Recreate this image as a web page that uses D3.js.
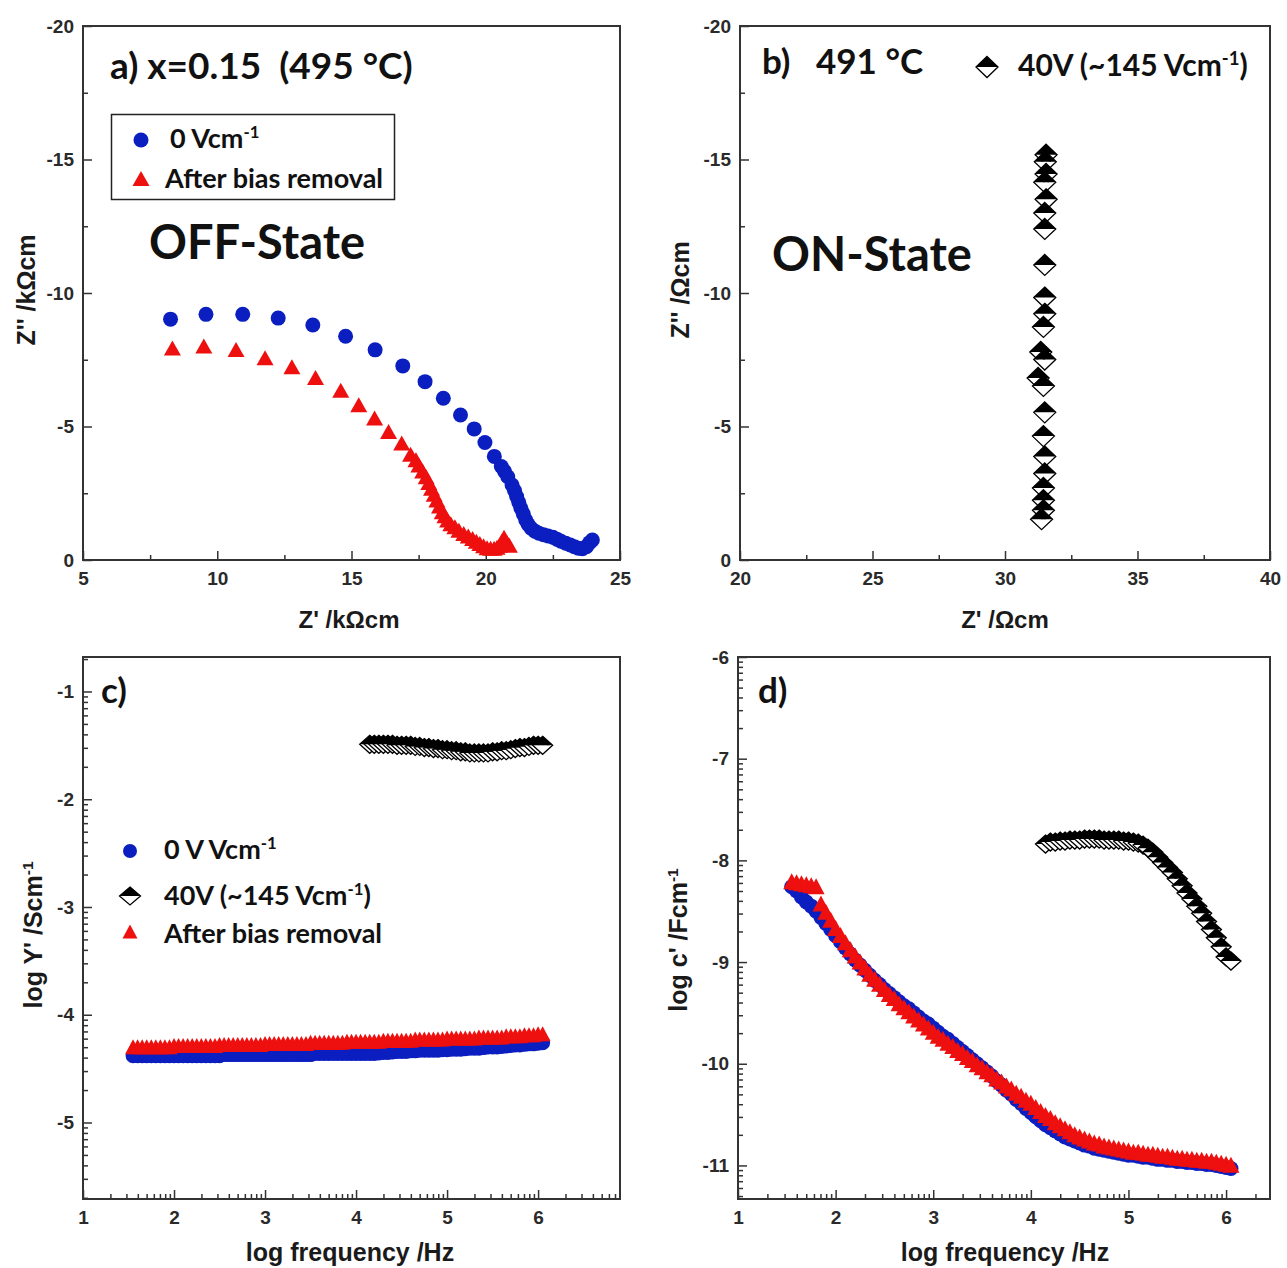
<!DOCTYPE html>
<html>
<head>
<meta charset="utf-8">
<script src="https://cdn.jsdelivr.net/npm/d3@7"></script>
<style>
body { margin: 0; background: #fff; }
svg text { font-family: "Liberation Sans", Arial, sans-serif; }
.note { font-family: Lato, "Open Sans", sans-serif; font-weight: bold; fill: #111; }
.ax text { font-size: 19px; font-weight: bold; fill: #2a2a2a; }
.ax line { stroke: #333; stroke-width: 1.5; }
.ttl { font-weight: bold; fill: #1a1a1a; }
</style>
</head>
<body>
<svg id="fig" width="1287" height="1268"></svg>
<script>
// ---- a) Nyquist, x=0.15, OFF state (kOhm cm)
var a_blue_x = [8.26, 9.58, 10.95, 12.27, 13.56, 14.78, 15.88, 16.91, 17.74, 18.42, 19.06, 19.57, 19.97, 20.32, 20.58, 20.7, 20.82, 20.98, 21.07, 21.15, 21.23, 21.31, 21.4, 21.49, 21.58, 21.69, 21.83, 21.98, 22.15, 22.32, 22.5, 22.65, 22.8, 22.98, 23.15, 23.3, 23.45, 23.6, 23.75, 23.87, 23.97];
var a_blue_y = [-9.02, -9.2, -9.2, -9.06, -8.8, -8.38, -7.87, -7.27, -6.68, -6.06, -5.43, -4.91, -4.4, -3.88, -3.5, -3.32, -3.12, -2.81, -2.6, -2.38, -2.16, -1.94, -1.72, -1.5, -1.33, -1.19, -1.08, -1.0, -0.95, -0.9, -0.85, -0.78, -0.7, -0.63, -0.56, -0.5, -0.44, -0.42, -0.5, -0.65, -0.75];
var a_red_x = [8.33, 9.5, 10.7, 11.78, 12.78, 13.66, 14.6, 15.27, 15.86, 16.38, 16.87, 17.2, 17.4, 17.51, 17.65, 17.78, 17.88, 17.98, 18.08, 18.18, 18.28, 18.38, 18.48, 18.58, 18.7, 18.85, 19.0, 19.18, 19.35, 19.51, 19.65, 19.78, 19.92, 20.05, 20.18, 20.31, 20.42, 20.51, 20.6, 20.68, 20.78, 20.88];
var a_red_y = [-7.88, -7.96, -7.83, -7.52, -7.18, -6.78, -6.3, -5.76, -5.26, -4.76, -4.33, -3.9, -3.7, -3.5, -3.28, -3.06, -2.85, -2.63, -2.41, -2.19, -1.97, -1.75, -1.6, -1.44, -1.3, -1.19, -1.06, -0.94, -0.84, -0.75, -0.65, -0.56, -0.48, -0.4, -0.38, -0.38, -0.42, -0.5, -0.65, -0.8, -0.62, -0.5];

// ---- b) Nyquist under 40V, ON state (Ohm cm)
var b_on_x = [31.55, 31.52, 31.55, 31.5, 31.55, 31.5, 31.5, 31.5, 31.5, 31.5, 31.45, 31.35, 31.5, 31.25, 31.45, 31.5, 31.45, 31.5, 31.5, 31.45, 31.45, 31.45, 31.38];
var b_on_y = [-15.18, -14.92, -14.46, -14.15, -13.51, -13.0, -12.4, -11.05, -9.83, -9.22, -8.73, -7.79, -7.51, -6.82, -6.52, -5.53, -4.64, -3.88, -3.24, -2.7, -2.24, -1.86, -1.53];

// ---- c), d) spectroscopic plots vs log frequency
var logf = [1.55, 1.6, 1.65, 1.7, 1.75, 1.8, 1.85, 1.9, 1.95,
	    2.0, 2.05, 2.1, 2.15, 2.2, 2.25, 2.3, 2.35, 2.4, 2.45, 2.5, 2.55, 2.6, 2.65, 2.7, 2.75, 2.8, 2.85, 2.9, 2.95,
	    3.0, 3.05, 3.1, 3.15, 3.2, 3.25, 3.3, 3.35, 3.4, 3.45, 3.5, 3.55, 3.6, 3.65, 3.7, 3.75, 3.8, 3.85, 3.9, 3.95,
	    4.0, 4.05, 4.1, 4.15, 4.2, 4.25, 4.3, 4.35, 4.4, 4.45, 4.5, 4.55, 4.6, 4.65, 4.7, 4.75, 4.8, 4.85, 4.9, 4.95,
	    5.0, 5.05, 5.1, 5.15, 5.2, 5.25, 5.3, 5.35, 5.4, 5.45, 5.5, 5.55, 5.6, 5.65, 5.7, 5.75, 5.8, 5.85, 5.9, 5.95,
	    6.0, 6.05];
var logf_on = [4.15, 4.2, 4.25, 4.3, 4.35, 4.4, 4.45, 4.5, 4.55, 4.6, 4.65, 4.7, 4.75, 4.8, 4.85, 4.9, 4.95,
	       5.0, 5.05, 5.1, 5.15, 5.2, 5.25, 5.3, 5.35, 5.4, 5.45, 5.5, 5.55, 5.6, 5.65, 5.7, 5.75, 5.8, 5.85, 5.9, 5.95,
	       6.0, 6.05];

var c_blue = [-4.38, -4.38, -4.38, -4.38, -4.38, -4.38, -4.38, -4.38, -4.38, -4.38,
	      -4.38, -4.38, -4.38, -4.38, -4.38, -4.38, -4.38, -4.38, -4.38, -4.38,
	      -4.37, -4.37, -4.37, -4.37, -4.37, -4.37, -4.37, -4.37, -4.37, -4.37,
	      -4.37, -4.37, -4.37, -4.37, -4.37, -4.37, -4.37, -4.37, -4.37, -4.37,
	      -4.36, -4.36, -4.36, -4.36, -4.36, -4.36, -4.36, -4.36, -4.36, -4.36, -4.36, -4.36, -4.36, -4.36,
	      -4.355, -4.35, -4.35, -4.345, -4.34, -4.34, -4.34, -4.335, -4.335, -4.33, -4.33, -4.33,
	      -4.33, -4.33, -4.325, -4.325, -4.32, -4.32, -4.32, -4.315, -4.31, -4.31, -4.31, -4.305,
	      -4.30, -4.30, -4.30, -4.295, -4.29, -4.285, -4.28, -4.28, -4.275, -4.27, -4.27, -4.265, -4.26];
var c_red = [-4.31, -4.31, -4.31, -4.31, -4.31, -4.31, -4.31, -4.31, -4.31,
	     -4.30, -4.30, -4.30, -4.30, -4.30, -4.30, -4.30, -4.30, -4.30, -4.30,
	     -4.29, -4.29, -4.29, -4.29, -4.29, -4.29, -4.29, -4.29, -4.29, -4.29,
	     -4.28, -4.28, -4.28, -4.28, -4.28, -4.28, -4.28, -4.28, -4.28, -4.28,
	     -4.27, -4.27, -4.27, -4.27, -4.27, -4.27, -4.27, -4.27,
	     -4.26, -4.26, -4.26, -4.26, -4.26, -4.26, -4.26, -4.26,
	     -4.25, -4.25, -4.25, -4.25, -4.25, -4.25, -4.25,
	     -4.24, -4.24, -4.24, -4.24, -4.24, -4.24, -4.24,
	     -4.23, -4.23, -4.23, -4.23, -4.23, -4.23, -4.23,
	     -4.22, -4.22, -4.22, -4.22, -4.22, -4.22,
	     -4.21, -4.21, -4.21, -4.21,
	     -4.20, -4.20, -4.20,
	     -4.19, -4.19];
var c_on = [-1.49, -1.49, -1.49, -1.49, -1.49, -1.49, -1.50, -1.50, -1.50, -1.50, -1.51, -1.51, -1.52, -1.52,
	    -1.53, -1.53, -1.54, -1.54, -1.55, -1.55, -1.56, -1.56, -1.57, -1.57, -1.57, -1.57, -1.57,
	    -1.56, -1.56, -1.55, -1.55, -1.54, -1.53, -1.52, -1.52, -1.51, -1.50, -1.50, -1.50];

var d_blue = [-8.26, -8.30, -8.36, -8.41, -8.45, -8.50, -8.56, -8.62, -8.68,
	      -8.74, -8.80, -8.86, -8.92, -8.98, -9.03, -9.08, -9.13, -9.18, -9.22, -9.27, -9.31, -9.35, -9.39, -9.43, -9.46, -9.50, -9.54, -9.58, -9.61,
	      -9.65, -9.69, -9.73, -9.76, -9.80, -9.84, -9.88, -9.92, -9.96, -10.00, -10.04, -10.08, -10.12, -10.17, -10.21, -10.26, -10.30, -10.35, -10.39, -10.44,
	      -10.48, -10.52, -10.56, -10.60, -10.63, -10.66, -10.69, -10.72, -10.74, -10.76, -10.78, -10.80, -10.81, -10.83, -10.84, -10.85, -10.86, -10.87, -10.88, -10.89,
	      -10.90, -10.90, -10.91, -10.92, -10.92, -10.93, -10.94, -10.94, -10.95, -10.95, -10.96, -10.96, -10.97, -10.97, -10.98, -10.98, -10.99, -10.99, -11.00, -11.01,
	      -11.02, -11.03];
var d_red = [-8.22, -8.23, -8.24, -8.25, -8.26, -8.27, -8.44, -8.52, -8.60,
	     -8.68, -8.75, -8.82, -8.89, -8.95, -9.01, -9.07, -9.13, -9.18, -9.23, -9.28, -9.33, -9.37, -9.42, -9.46, -9.50, -9.54, -9.58, -9.62, -9.66,
	     -9.70, -9.74, -9.77, -9.81, -9.84, -9.88, -9.91, -9.95, -9.98, -10.02, -10.05, -10.09, -10.12, -10.16, -10.19, -10.23, -10.26, -10.30, -10.33, -10.37,
	     -10.40, -10.44, -10.48, -10.52, -10.55, -10.59, -10.62, -10.65, -10.68, -10.71, -10.73, -10.75, -10.77, -10.79, -10.80, -10.82, -10.83, -10.84, -10.85, -10.86,
	     -10.87, -10.88, -10.88, -10.89, -10.90, -10.90, -10.91, -10.92, -10.92, -10.93, -10.94, -10.94, -10.95, -10.95, -10.96, -10.96, -10.97, -10.97, -10.98, -10.99,
	     -11.00, -11.01];
var d_on = [-7.84, -7.82, -7.82, -7.81, -7.81, -7.80, -7.80, -7.80, -7.79, -7.79, -7.79, -7.79, -7.80, -7.80, -7.80, -7.80, -7.81, -7.81, -7.82, -7.83,
	    -7.85, -7.88, -7.92, -7.97, -8.02, -8.07, -8.12, -8.18, -8.25, -8.32, -8.38, -8.45, -8.52, -8.60, -8.68, -8.76, -8.85, -8.95, -8.99];

// tick labels
var ab_y_ticks = [0, -5, -10, -15, -20];
var a_x_ticks = [5, 10, 15, 20, 25];
var b_x_ticks = [20, 25, 30, 35, 40];
var c_y_ticks = [-1, -2, -3, -4, -5];
var d_y_ticks = [-6, -7, -8, -9, -10, -11];
var f_ticks = [1, 2, 3, 4, 5, 6];

var BLUE = "#0b1ec0", RED = "#ee0f0f";
var NB = "\u00a0";

var svg = d3.select("#fig");

// log-style minor ticks between integer decades
function logMinor(lo, hi) {
    var out = [];
    for (var n = Math.floor(lo) - 1; n <= Math.ceil(hi); n++) {
	for (var k = 2; k <= 9; k++) {
	    var v = n + Math.log10(k);
	    if (v > lo && v < hi) out.push(v);
	}
    }
    return out;
}

function panel(box, xDom, yDom, xt, yt, xMinor, yMinor) {
    var x = d3.scaleLinear().domain(xDom).range([box.x0, box.x1]);
    var y = d3.scaleLinear().domain(yDom).range([box.y1, box.y0]);
    var g = svg.append("g");

    var fmt = function(d){ return String(d); };
    g.append("g").attr("class", "ax")
	.attr("transform", "translate(0," + box.y1 + ")")
	.call(d3.axisBottom(x).tickValues(xt).tickSizeInner(-9).tickSizeOuter(0)
	      .tickPadding(12).tickFormat(fmt))
	.call(function(s){ s.select(".domain").remove(); });
    g.append("g").attr("class", "ax")
	.attr("transform", "translate(0," + box.y1 + ")")
	.call(d3.axisBottom(x).tickValues(xMinor).tickSizeInner(-5).tickSizeOuter(0)
	      .tickFormat(""))
	.call(function(s){ s.select(".domain").remove(); });
    g.append("g").attr("class", "ax")
	.attr("transform", "translate(" + box.x0 + ",0)")
	.call(d3.axisLeft(y).tickValues(yt).tickSizeInner(-9).tickSizeOuter(0)
	      .tickPadding(9).tickFormat(fmt))
	.call(function(s){ s.select(".domain").remove(); });
    g.append("g").attr("class", "ax")
	.attr("transform", "translate(" + box.x0 + ",0)")
	.call(d3.axisLeft(y).tickValues(yMinor).tickSizeInner(-5).tickSizeOuter(0)
	      .tickFormat(""))
	.call(function(s){ s.select(".domain").remove(); });

    g.append("rect")
	.attr("x", box.x0).attr("y", box.y0)
	.attr("width", box.x1 - box.x0).attr("height", box.y1 - box.y0)
	.attr("fill", "none").attr("stroke", "#333").attr("stroke-width", 2);

    return {x: x, y: y, g: g};
}

function circles(p, xs, ys, r) {
    p.g.append("g").selectAll("circle").data(xs).join("circle")
	.attr("cx", function(d){ return p.x(d); })
	.attr("cy", function(d, i){ return p.y(ys[i]); })
	.attr("r", r).attr("fill", BLUE);
}

function triPath(w, h) {
    return "M0," + (-h * 0.6) + "L" + (w / 2) + "," + (h * 0.4) + "L" + (-w / 2) + "," + (h * 0.4) + "Z";
}

function triangles(p, xs, ys, w, h) {
    p.g.append("g").selectAll("path").data(xs).join("path")
	.attr("transform", function(d, i){ return "translate(" + p.x(d) + "," + p.y(ys[i]) + ")"; })
	.attr("d", triPath(w, h)).attr("fill", RED);
}

function diamond(sel, w, h) {
    sel.append("path")
	.attr("d", "M" + (-w / 2) + ",0L" + (w / 2) + ",0L0," + (h / 2) + "Z")
	.attr("fill", "#fff");
    sel.append("path")
	.attr("d", "M0," + (-h / 2) + "L" + (w / 2) + ",0L" + (-w / 2) + ",0Z")
	.attr("fill", "#000");
    sel.append("path")
	.attr("d", "M0," + (-h / 2) + "L" + (w / 2) + ",0L0," + (h / 2) + "L" + (-w / 2) + ",0Z")
	.attr("fill", "none").attr("stroke", "#000").attr("stroke-width", 1.3);
}

function diamonds(p, xs, ys, w, h) {
    p.g.append("g").selectAll("g").data(xs).join("g")
	.attr("transform", function(d, i){ return "translate(" + p.x(d) + "," + p.y(ys[i]) + ")"; })
	.each(function(){ diamond(d3.select(this), w, h); });
}

// text with optional superscript pieces: parts = [[str, isSup, backDown], ...]
function rich(x, y, parts, size, cls, anchor, rot) {
    var t = svg.append("text").attr("class", cls)
	.attr("font-size", size)
	.attr("text-anchor", anchor || "start");
    if (rot) t.attr("transform", "translate(" + x + "," + y + ") rotate(-90)");
    else t.attr("x", x).attr("y", y);
    parts.forEach(function(pt){
	var s = t.append("tspan").text(pt[0]);
	if (pt[1]) s.attr("font-size", size * 0.62).attr("dy", -size * 0.38);
	else if (pt[2]) s.attr("dy", size * 0.38);
    });
    return t;
}

// ---------- panel a
var pa = panel({x0: 83, x1: 620, y0: 26, y1: 560}, [5, 25], [0, -20],
	       a_x_ticks, ab_y_ticks, [7.5, 12.5, 17.5, 22.5], [-2.5, -7.5, -12.5, -17.5]);
circles(pa, a_blue_x, a_blue_y, 7.5);
triangles(pa, a_red_x, a_red_y, 17, 15);

rich(110, 79, [["a) x=0.15" + NB + NB + "(495 °C)"]], 37, "note");
svg.append("rect").attr("x", 111.5).attr("y", 114.5).attr("width", 283).attr("height", 85)
    .attr("fill", "none").attr("stroke", "#222").attr("stroke-width", 1.5);
svg.append("circle").attr("cx", 141).attr("cy", 140).attr("r", 7.5).attr("fill", BLUE);
rich(170, 148, [["0 Vcm"], ["-1", true]], 27, "note");
svg.append("path").attr("transform", "translate(141,180)").attr("d", triPath(17, 15)).attr("fill", RED);
rich(165, 188, [["After bias removal"]], 27, "note");
rich(149, 259, [["OFF-State"]], 47, "note");
rich(35, 290, [["Z'' /kΩcm"]], 25, "ttl", "middle", true);
rich(349, 628, [["Z' /kΩcm"]], 24, "ttl", "middle");

// ---------- panel b
var pb = panel({x0: 740, x1: 1270, y0: 26, y1: 560}, [20, 40], [0, -20],
	       b_x_ticks, ab_y_ticks, [22.5, 27.5, 32.5, 37.5], [-2.5, -7.5, -12.5, -17.5]);
diamonds(pb, b_on_x, b_on_y, 22, 21);

rich(762, 74, [["b)" + NB + NB + NB + "491 °C"]], 35, "note");
diamond(svg.append("g").attr("transform", "translate(987,67)"), 22, 21);
rich(1018, 76, [["40V (~145 Vcm"], ["-1", true], [")", false, true]], 30, "note");
rich(772, 271, [["ON-State"]], 47, "note");
rich(689, 290, [["Z'' /Ωcm"]], 25, "ttl", "middle", true);
rich(1005, 628, [["Z' /Ωcm"]], 24, "ttl", "middle");

// ---------- panel c
var pc = panel({x0: 83, x1: 620, y0: 657, y1: 1199}, [1, 6.9], [-5.71, -0.68],
	       f_ticks, c_y_ticks, logMinor(1, 6.9), logMinor(-5.71, -0.68));
circles(pc, logf, c_blue, 7.5);
triangles(pc, logf, c_red, 16, 15);
diamonds(pc, logf_on, c_on, 20, 18);

rich(101, 703, [["c)"]], 35, "note");
svg.append("circle").attr("cx", 130).attr("cy", 851).attr("r", 7).attr("fill", BLUE);
rich(164, 859, [["0 V Vcm"], ["-1", true]], 27, "note");
diamond(svg.append("g").attr("transform", "translate(130,896)"), 21, 18);
rich(164, 905, [["40V (~145 Vcm"], ["-1", true], [")", false, true]], 27, "note");
svg.append("path").attr("transform", "translate(130,933)").attr("d", triPath(15, 14)).attr("fill", RED);
rich(164, 943, [["After bias removal"]], 27, "note");
rich(42, 935, [["log Y' /Scm"], ["-1", true]], 25, "ttl", "middle", true);
rich(350, 1261, [["log frequency /Hz"]], 25, "ttl", "middle");

// ---------- panel d
var pd = panel({x0: 738, x1: 1270, y0: 657, y1: 1199}, [1, 6.45], [-11.33, -6],
	       f_ticks, d_y_ticks, logMinor(1, 6.45), logMinor(-11.33, -6));
circles(pd, logf, d_blue, 7.5);
triangles(pd, logf, d_red, 17, 16);
diamonds(pd, logf_on, d_on, 20, 18);

rich(758, 703, [["d)"]], 35, "note");
rich(687, 940, [["log c' /Fcm"], ["-1", true]], 25, "ttl", "middle", true);
rich(1005, 1261, [["log frequency /Hz"]], 25, "ttl", "middle");
</script>
</body>
</html>
